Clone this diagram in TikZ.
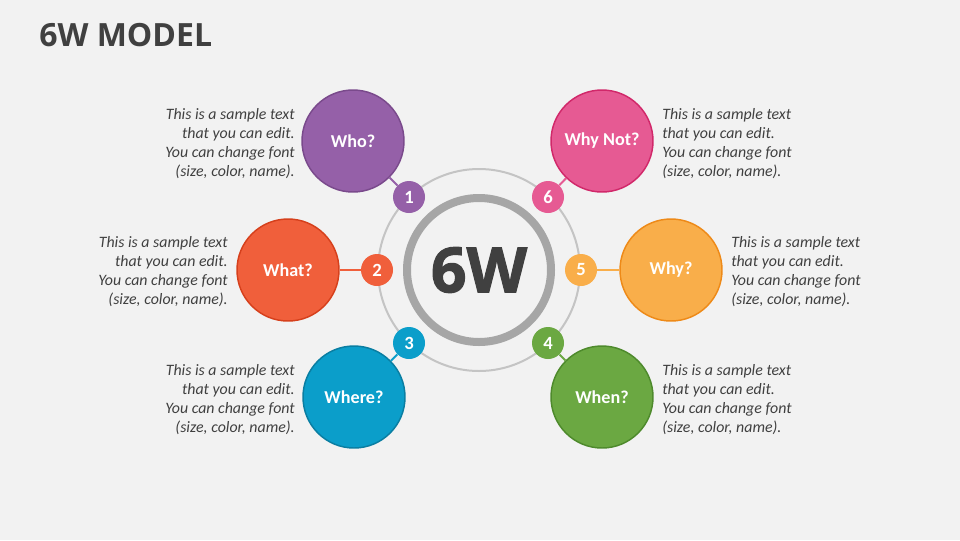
\documentclass[tikz,border=0pt]{standalone}
\usepackage{fontspec}
\setmainfont{Carlito}
\newfontfamily\titlefont{Open Sans}
\newfontfamily\heavyfont{Open Sans}[BoldFeatures={FakeBold=1.6}]
\definecolor{bg}{HTML}{F2F2F2}
\definecolor{txt}{HTML}{404040}
\definecolor{ringgray}{HTML}{A6A6A6}
\definecolor{orbitgray}{HTML}{C4C4C4}
\definecolor{cPurple}{HTML}{9560A8}
\definecolor{bPurple}{HTML}{7A4A8C}
\definecolor{cRed}{HTML}{F05F3B}
\definecolor{bRed}{HTML}{D6401C}
\definecolor{cBlue}{HTML}{0B9ECA}
\definecolor{bBlue}{HTML}{0A7EA2}
\definecolor{cPink}{HTML}{E65A93}
\definecolor{bPink}{HTML}{D1286A}
\definecolor{cOrange}{HTML}{F9AE4A}
\definecolor{bOrange}{HTML}{EE8A18}
\definecolor{cGreen}{HTML}{6BA842}
\definecolor{bGreen}{HTML}{4E8A2C}
\tikzset{
  bigc/.style={circle, minimum size=76.5pt, inner sep=0pt, line width=1.1pt,
    font=\fontsize{13.6pt}{15pt}\selectfont\bfseries, text=white},
  numc/.style={circle, minimum size=24pt, inner sep=0pt,
    font=\fontsize{14pt}{15pt}\selectfont\bfseries, text=white},
  link/.style={line width=1.5pt},
  desc/.style={inner sep=0pt, text=txt, font=\fontsize{11.9pt}{14.25pt}\selectfont\itshape},
  descl/.style={desc, anchor=east, align=right},
  descr/.style={desc, anchor=west, align=left}
}
\begin{document}
\begin{tikzpicture}[x=0.75pt, y=-0.75pt]
\fill[bg] (0,0) rectangle (960,540);
\useasboundingbox (0,0) rectangle (960,540);

\node[anchor=base west, inner sep=0pt, text=txt, font=\titlefont\bfseries\fontsize{24pt}{28pt}\selectfont] (title) at (39,46) {6W MODEL};

% orbit and core ring
\node[circle, draw=orbitgray, line width=1.5pt, minimum size=151.5pt, inner sep=0pt] (orbit) at (479,270) {};
\node[circle, draw=ringgray, line width=6pt, minimum size=108pt, inner sep=0pt, text=txt,
  font=\heavyfont\bfseries\fontsize{47pt}{50pt}\selectfont] (core) at (479,270) {6W};

% big circles
\node[bigc, fill=cPurple, draw=bPurple] (who) at (353,141) {Who?};
\node[bigc, fill=cRed, draw=bRed] (what) at (288,270) {What?};
\node[bigc, fill=cBlue, draw=bBlue] (where) at (354,397) {Where?};
\node[bigc, fill=cPink, draw=bPink] (whynot) at (602,141) {Why Not?};
\node[bigc, fill=cOrange, draw=bOrange] (why) at (671,270) {Why?};
\node[bigc, fill=cGreen, draw=bGreen] (when) at (602,397) {When?};

% number circles
\node[numc, fill=cPurple] (n1) at (409,197) {1};
\node[numc, fill=cRed] (n2) at (377,270) {2};
\node[numc, fill=cBlue] (n3) at (409,343) {3};
\node[numc, fill=cGreen] (n4) at (548,343) {4};
\node[numc, fill=cOrange] (n5) at (581,270) {5};
\node[numc, fill=cPink] (n6) at (548,197) {6};

% connectors
\draw[link, draw=cPurple] (who) -- (n1);
\draw[link, draw=cRed] (what) -- (n2);
\draw[link, draw=cBlue] (where) -- (n3);
\draw[link, draw=cGreen] (when) -- (n4);
\draw[link, draw=cOrange] (why) -- (n5);
\draw[link, draw=cPink] (whynot) -- (n6);

% descriptions
\node[descl] (t1) at (295,144) {This is a sample text\\that you can edit.\\You can change font\\(size, color, name).};
\node[descl] (t2) at (228,272) {This is a sample text\\that you can edit.\\You can change font\\(size, color, name).};
\node[descl] (t3) at (295,400) {This is a sample text\\that you can edit.\\You can change font\\(size, color, name).};
\node[descr] (t6) at (662,144) {This is a sample text\\that you can edit.\\You can change font\\(size, color, name).};
\node[descr] (t5) at (731,272) {This is a sample text\\that you can edit.\\You can change font\\(size, color, name).};
\node[descr] (t4) at (662,400) {This is a sample text\\that you can edit.\\You can change font\\(size, color, name).};
\end{tikzpicture}
\end{document}
